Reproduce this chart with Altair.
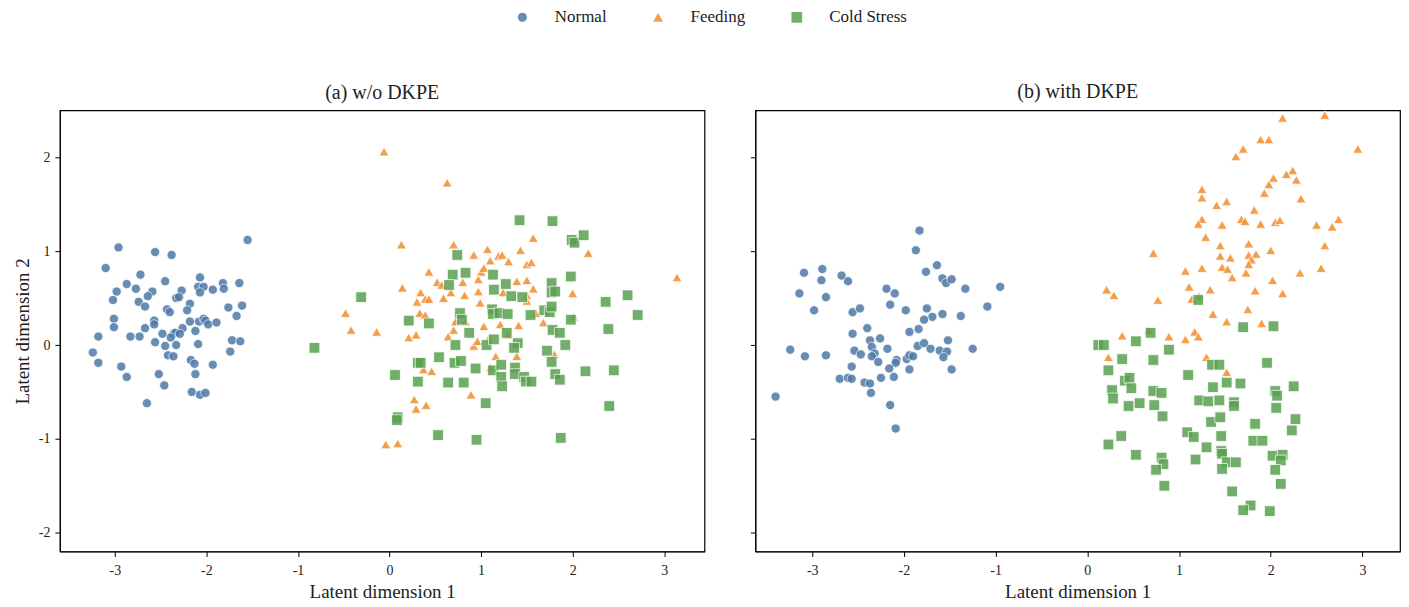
import altair as alt
import pandas as pd

classes = ["Normal", "Feeding", "Cold Stress"]
colors = ["#4e79a7", "#f28e2b", "#59a14f"]
shapes = ["circle", "triangle-up", "square"]
panels = ["(a) w/o DKPE", "(b) with DKPE"]

# ---- panel (a) ----
a_normal_x = [-1.55,-2.96,-2.56,-2.38,-3.10,-2.72,-2.45,-2.07,-2.87,-2.77,-2.98,-2.59,-2.27,-2.09,-2.03,-2.07,-1.93,-1.82,-1.81,-1.64,
              -3.02,-2.64,-2.74,-2.67,-2.33,-2.30,-2.18,-2.43,-2.40,-2.21,-1.76,-1.61,-1.67,-3.01,-3.01,-2.57,-2.57,-2.18,-2.08,-2.03,
              -2.01,-1.98,-1.89,-2.67,-2.26,-2.12,-3.18,-2.83,-2.73,-2.48,-2.36,-2.34,-2.29,-2.39,-2.56,-2.45,-2.33,-2.09,-1.72,-1.63,
              -3.24,-3.18,-2.42,-2.36,-2.17,-2.13,-1.74,-1.93,-2.93,-2.87,-2.52,-2.12,-2.46,-2.16,-2.07,-2.01,-2.65]
a_normal_y = [1.12,1.04,0.99,0.96,0.82,0.75,0.68,0.72,0.65,0.60,0.57,0.57,0.58,0.62,0.62,0.56,0.59,0.66,0.60,0.66,
              0.48,0.52,0.46,0.41,0.50,0.51,0.44,0.38,0.35,0.37,0.40,0.42,0.31,0.28,0.19,0.26,0.22,0.25,0.25,0.28,
              0.26,0.22,0.24,0.18,0.18,0.15,0.09,0.09,0.09,0.12,0.12,0.13,0.12,0.08,0.03,-0.01,0.00,0.01,0.05,0.04,
              -0.08,-0.19,-0.11,-0.12,-0.16,-0.20,-0.07,-0.21,-0.23,-0.34,-0.31,-0.31,-0.43,-0.50,-0.53,-0.51,-0.62]

a_feeding_x = [-0.06,0.63,0.13,0.70,0.92,1.07,1.10,0.43,1.00,1.03,0.52,0.57,0.80,0.97,0.14,0.34,0.67,0.97,0.30,0.39,
               0.43,0.59,0.82,0.99,-0.48,0.33,0.39,-0.42,-0.14,0.72,0.83,0.70,1.03,0.21,0.29,0.64,0.92,0.96,1.09,0.37,
               0.46,1.10,0.89,0.27,0.40,0.29,-0.04,0.09,1.57,1.43,2.17,1.19,1.23,1.30,1.50,1.55,1.39,1.50,1.57,1.24,
               1.50,1.50,2.00,3.14,1.60,2.01,1.21,1.41,1.68,1.29,1.16,1.39,1.80]
a_feeding_y = [2.06,1.73,1.07,1.07,0.96,1.02,0.90,0.78,0.78,0.82,0.67,0.64,0.67,0.70,0.61,0.56,0.56,0.57,0.46,0.49,
               0.49,0.50,0.53,0.45,0.34,0.34,0.32,0.16,0.14,0.25,0.25,0.16,0.20,0.08,0.11,0.09,-0.01,0.04,0.08,-0.26,
               -0.28,-0.24,-0.53,-0.58,-0.64,-0.68,-1.06,-1.05,1.14,1.01,0.98,0.95,0.96,0.89,0.86,0.88,0.68,0.69,0.60,0.56,
               0.53,0.47,0.55,0.72,0.34,0.30,0.22,0.21,0.24,0.11,-0.12,-0.12,-0.10]

a_cold_x = [0.74,0.69,0.83,0.65,1.13,1.14,-0.31,0.21,0.43,0.77,0.79,1.12,1.13,0.87,-0.82,0.72,1.06,1.14,0.54,0.31,
            0.34,0.71,0.78,0.94,1.13,0.06,0.31,0.64,0.81,1.05,0.09,0.08,0.53,0.95,1.42,1.78,1.99,2.02,2.12,1.98,
            1.27,1.77,1.77,1.81,1.33,1.45,2.36,2.60,1.20,1.29,1.54,1.69,1.75,1.77,1.98,2.71,2.39,1.78,1.86,1.28,
            1.40,1.36,1.92,1.72,1.77,1.22,1.37,1.37,1.22,1.23,1.47,1.49,1.55,1.81,1.86,2.14,2.45,2.40,1.87]
a_cold_y = [0.96,0.75,0.77,0.64,0.75,0.59,0.51,0.26,0.23,0.34,0.27,0.38,0.33,0.13,-0.03,0.00,0.00,0.06,-0.13,-0.19,
            -0.19,-0.19,-0.17,-0.25,-0.27,-0.32,-0.39,-0.40,-0.40,-0.62,-0.77,-0.80,-0.96,-1.01,1.33,1.32,1.12,1.09,1.17,0.73,
            0.65,0.66,0.56,0.57,0.52,0.51,0.46,0.53,0.34,0.33,0.32,0.37,0.35,0.41,0.27,0.32,0.17,0.16,0.13,0.13,
            0.02,-0.03,0.00,-0.06,-0.18,-0.21,-0.24,-0.31,-0.34,-0.44,-0.34,-0.39,-0.39,-0.31,-0.37,-0.28,-0.27,-0.65,-0.99]

# ---- panel (b) ----
b_normal_x = [-1.83,-1.87,-1.64,-3.09,-2.89,-2.90,-2.68,-2.61,-1.76,-1.58,-1.54,-1.48,-0.95,-1.33,-3.14,-2.85,-2.19,-2.10,-2.98,-2.56,
              -2.48,-2.15,-1.98,-1.75,-1.58,-1.69,-1.78,-1.38,-1.09,-2.40,-2.56,-1.94,-1.84,-2.37,-2.26,-1.52,-3.24,-3.08,-2.85,-2.54,
              -2.47,-2.35,-2.32,-2.35,-2.28,-2.18,-1.85,-1.78,-1.71,-1.61,-1.53,-1.57,-1.25,-2.08,-2.09,-1.97,-1.94,-1.90,-2.57,-2.16,
              -1.94,-1.48,-2.70,-2.61,-2.57,-2.25,-2.11,-2.43,-2.37,-2.36,-3.40,-2.15,-2.09]
b_normal_y = [1.22,1.01,0.85,0.77,0.81,0.69,0.74,0.68,0.78,0.71,0.66,0.70,0.62,0.60,0.55,0.51,0.60,0.55,0.37,0.35,
              0.39,0.43,0.37,0.39,0.33,0.30,0.27,0.31,0.41,0.18,0.12,0.14,0.17,0.05,0.07,0.05,-0.05,-0.12,-0.11,-0.06,
              -0.10,-0.02,-0.09,-0.12,-0.18,-0.04,-0.01,0.02,-0.04,-0.06,-0.07,-0.13,-0.04,-0.16,-0.19,-0.15,-0.11,-0.12,-0.23,-0.25,
              -0.26,-0.26,-0.36,-0.35,-0.36,-0.35,-0.34,-0.40,-0.41,-0.51,-0.55,-0.64,-0.89]

b_feeding_x = [2.13,2.59,1.89,1.98,2.95,1.70,1.62,2.24,2.17,2.28,2.03,1.98,1.93,2.33,1.25,1.25,1.41,1.52,1.82,1.25,
               1.21,1.47,1.68,1.72,1.89,2.05,2.10,2.50,2.67,2.74,1.29,1.45,1.76,2.59,0.72,1.45,1.56,1.76,1.84,1.79,
               2.00,1.76,1.25,1.07,1.47,1.53,1.58,1.73,2.32,2.55,2.02,0.21,0.29,1.11,1.34,1.83,2.13,0.77,1.14,1.22,
               1.75,1.37,1.52,1.90,0.38,0.67,0.89,1.07,1.17,1.21,0.23,1.30,1.52]
b_feeding_y = [2.42,2.45,2.19,2.19,2.09,2.09,2.01,1.86,1.82,1.76,1.78,1.71,1.62,1.56,1.66,1.57,1.49,1.53,1.44,1.34,
               1.29,1.28,1.34,1.32,1.29,1.31,1.33,1.28,1.26,1.34,1.15,1.06,1.08,1.06,0.98,0.95,0.93,0.96,0.97,0.91,
               1.01,0.86,0.82,0.79,0.83,0.81,0.72,0.77,0.77,0.82,0.69,0.59,0.53,0.62,0.59,0.58,0.55,0.48,0.49,0.52,
               0.38,0.33,0.25,0.23,0.10,0.16,0.09,0.06,0.14,0.09,-0.13,-0.13,-0.29]

b_cold_x = [1.70,2.03,0.69,0.12,0.18,0.53,0.89,0.38,0.72,1.36,1.44,1.96,0.23,1.10,0.41,0.46,0.48,1.52,1.67,2.25,
            0.27,0.28,0.72,0.81,1.37,2.05,2.07,0.45,0.57,0.73,1.22,1.32,1.44,1.60,1.60,2.06,0.82,1.35,1.45,1.83,
            2.27,2.23,1.09,1.16,1.46,0.37,0.23,1.81,1.91,1.30,1.46,1.47,0.53,0.81,0.83,0.75,1.18,1.52,1.62,1.47,
            2.02,2.13,2.11,2.05,0.84,2.11,1.58,1.78,1.70,1.99,1.21]
b_cold_y = [0.19,0.20,0.13,0.00,0.00,0.04,-0.05,-0.15,-0.16,-0.21,-0.21,-0.19,-0.27,-0.32,-0.38,-0.35,-0.46,-0.40,-0.41,-0.44,
            -0.48,-0.57,-0.49,-0.51,-0.45,-0.49,-0.54,-0.65,-0.62,-0.64,-0.59,-0.60,-0.59,-0.61,-0.65,-0.67,-0.76,-0.82,-0.77,-0.84,
            -0.79,-0.91,-0.93,-0.98,-0.97,-0.97,-1.06,-1.02,-1.02,-1.09,-1.13,-1.16,-1.17,-1.20,-1.27,-1.33,-1.22,-1.25,-1.25,-1.32,
            -1.18,-1.17,-1.23,-1.33,-1.50,-1.48,-1.56,-1.71,-1.76,-1.77,0.48]

x_domains = [[-3.6, 3.44], [-3.62, 3.41]]
y_domain = [-2.2, 2.5]

rows = []
def add(panel, cls, xs, ys):
    for x, y in zip(xs, ys):
        rows.append({"panel": panel, "cls": cls, "x": x, "y": y})

add(panels[0], classes[0], a_normal_x, a_normal_y)
add(panels[0], classes[1], a_feeding_x, a_feeding_y)
add(panels[0], classes[2], a_cold_x, a_cold_y)
add(panels[1], classes[0], b_normal_x, b_normal_y)
add(panels[1], classes[1], b_feeding_x, b_feeding_y)
add(panels[1], classes[2], b_cold_x, b_cold_y)
df = pd.DataFrame(rows)

FONT = "Liberation Serif"
yscale = alt.Scale(domain=y_domain, nice=False, zero=False)
color = alt.Color("cls:N", scale=alt.Scale(domain=classes, range=colors),
                  legend=alt.Legend(title=None, orient="none", direction="horizontal",
                                    legendX=455, legendY=-102, columnPadding=43,
                                    labelOffset=24, symbolSize=50, labelFontSize=17,
                                    labelFont=FONT, labelColor="#222",
                                    symbolStrokeWidth=0, symbolOpacity=0.85))
shape = alt.Shape("cls:N", scale=alt.Scale(domain=classes, range=shapes))
size = alt.Size("cls:N", scale=alt.Scale(domain=classes, range=[85, 115, 85]), legend=None)

def panel_chart(i, show_y):
    name = panels[i]
    sub = df[df.panel == name]
    yaxis = alt.Axis(values=[-2, -1, 0, 1, 2], labelExpr="'' + datum.value",
                     title="Latent dimension 2" if show_y else None,
                     labels=show_y, grid=False)
    return alt.Chart(sub, title=alt.TitleParams(name, fontSize=20, font=FONT, color="#222",
                                                fontWeight="normal", offset=7)).mark_point(
        filled=True, opacity=0.85, stroke="white", strokeWidth=0.8
    ).encode(
        x=alt.X("x:Q", scale=alt.Scale(domain=x_domains[i], nice=False, zero=False),
                axis=alt.Axis(values=[-3, -2, -1, 0, 1, 2, 3], labelExpr="'' + datum.value",
                              title="Latent dimension 1", grid=False)),
        y=alt.Y("y:Q", scale=yscale, axis=yaxis),
        color=color,
        shape=shape,
        size=size,
        order=alt.Order("ord:Q"),
    ).transform_calculate(
        ord="datum.cls == 'Normal' ? 0 : (datum.cls == 'Feeding' ? 1 : 2)"
    ).properties(width=646, height=442)

chart = alt.hconcat(panel_chart(0, True), panel_chart(1, False), spacing=43).configure_view(
    stroke="black", strokeWidth=1.2
).configure_axis(
    domainColor="black", tickColor="black", labelColor="#222", titleColor="#222",
    labelFont=FONT, titleFont=FONT, labelFontSize=14, titleFontSize=19,
    titleFontWeight="normal", tickSize=5, labelPadding=5, titlePadding=6
).configure_axisX(titlePadding=5, labelPadding=7).properties(
    padding={"top": 0, "left": 4, "right": 0, "bottom": 0},
    background="white"
)

chart.save("out.html", embed_options={"renderer": "svg", "actions": False})
